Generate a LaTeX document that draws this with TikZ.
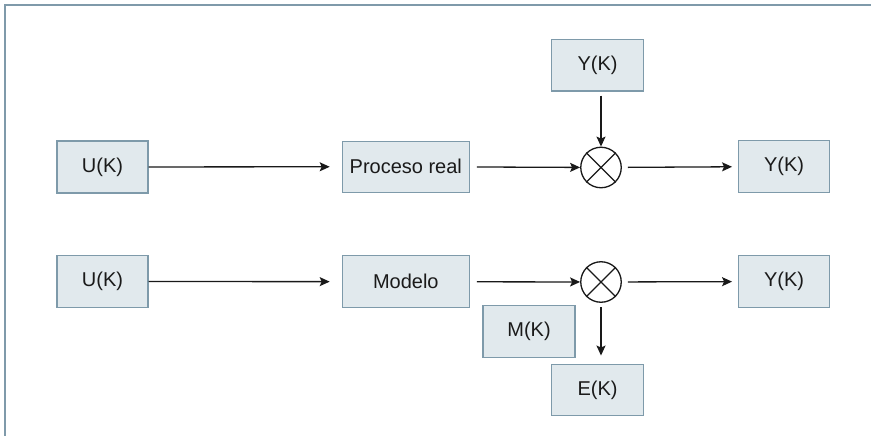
\documentclass[tikz,border=0pt]{standalone}
\usepackage{fontspec}
\setmainfont{Liberation Sans}
\usetikzlibrary{arrows.meta}
\definecolor{boxfill}{HTML}{E1E9ED}
\definecolor{boxline}{HTML}{7E9AAA}
\definecolor{framec}{HTML}{7F9AAA}
\definecolor{txt}{HTML}{1A1A1A}
\tikzset{
  blk/.style={draw=boxline, fill=boxfill, line width=1.2pt, inner sep=0pt,
    text=txt, font=\fontsize{20}{23}\selectfont},
  mixer/.style={draw=black!90, line width=1.3pt, circle, minimum size=40.5pt, inner sep=0pt},
  flow/.style={-{Stealth[length=10pt,width=9pt,inset=2pt]}, line width=1.3pt, draw=black!90},
}
\newcommand{\crossin}[1]{\draw[line width=1.3pt, black!90] (#1.45) -- (#1.225) (#1.135) -- (#1.-45);}
\begin{document}
\begin{tikzpicture}[x=1pt,y=-1pt]
  \useasboundingbox (0,0) rectangle (871,436);
  % frame edges
  \draw[framec, line width=2pt] (5,436) -- (5,5.5) -- (871,5.5);

  % upper chain: real process
  \node[blk, minimum width=91pt, minimum height=52pt] (u1) at (102.5,167) {U(K)};
  \node[blk, minimum width=127pt, minimum height=51pt] (proc) at (405.8,166.7) {Proceso real};
  \node[blk, minimum width=91.6pt, minimum height=51.7pt] (yt) at (597.5,65.2) {Y(K)};
  \node[mixer] (c1) at (601,167.5) {};
  \crossin{c1}
  \node[blk, minimum width=91.7pt, minimum height=51.6pt] (y1) at (784,166.5) {Y(K)};

  % lower chain: model
  \node[blk, minimum width=91pt, minimum height=52pt] (u2) at (102.5,281.5) {U(K)};
  \node[blk, minimum width=127pt, minimum height=52pt] (mod) at (405.8,281.7) {Modelo};
  \node[mixer] (c2) at (601,282) {};
  \crossin{c2}
  \node[blk, minimum width=91.7pt, minimum height=51.6pt] (y2) at (784,281.5) {Y(K)};
  \node[blk, minimum width=92pt, minimum height=51.6pt] (m) at (529,331.5) {M(K)};
  \node[blk, minimum width=91.6pt, minimum height=51.7pt] (e) at (597.5,390) {E(K)};

  % connectors
  \draw[flow, shorten >=12pt] (u1) -- (proc);
  \draw[flow, shorten <=7pt] (proc) -- (c1);
  \draw[flow, shorten <=6pt, shorten >=5.5pt] (c1) -- (y1);
  \draw[flow, shorten <=4pt] (yt.south -| c1) -- (c1);

  \draw[flow, shorten >=12pt] (u2) -- (mod);
  \draw[flow, shorten <=7pt] (mod) -- (c2);
  \draw[flow, shorten <=6pt, shorten >=5.5pt] (c2) -- (y2);
  \draw[flow, shorten <=4.5pt, shorten >=8pt] (c2) -- (c2 |- e.north);
\end{tikzpicture}
\end{document}
